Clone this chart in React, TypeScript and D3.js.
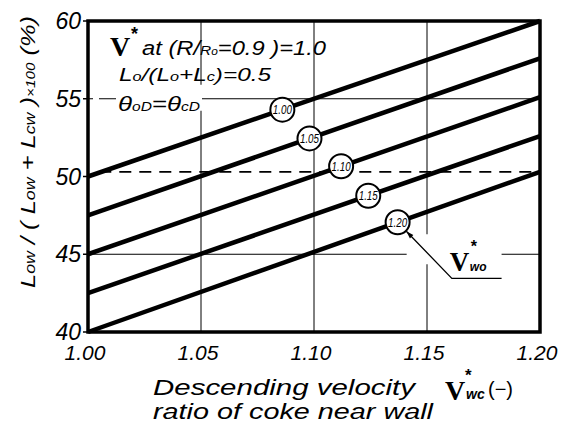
import React from "react";
import * as d3 from "d3";

// V*wo levels and their line end points
const vwoLevels = ["1.00", "1.05", "1.10", "1.15", "1.20"];
const startValues = [50, 47.5, 45, 42.5, 40];
const endValues = [60, 57.6, 55.1, 52.6, 50.3];
const labelAt = [1.086, 1.098, 1.112, 1.124, 1.137];

const xTicks = [1.0, 1.05, 1.1, 1.15, 1.2];
const xTickLabels = ["1.00", "1.05", "1.10", "1.15", "1.20"];
const yTicks = [40, 45, 50, 55, 60];
const yGrid = [45, 55];
const xGrid = [1.05, 1.1, 1.15];
const dashedLevel = 50.3;

const W = 576;
const H = 428;
const font = "'Liberation Sans', Arial, sans-serif";

const App = () => {
  const x = d3.scaleLinear().domain([1.0, 1.2]).range([88, 540]);
  const y = d3.scaleLinear().domain([40, 60]).range([332, 21]);

  const line = d3
    .line<[number, number]>()
    .x((d) => x(d[0]))
    .y((d) => y(d[1]));

  const valueAt = (i: number, v: number) =>
    startValues[i] + ((endValues[i] - startValues[i]) * (v - 1.0)) / 0.2;

  // leader line for V*wo label
  const cx = x(labelAt[4]);
  const cy = y(valueAt(4, labelAt[4]));
  const lx0 = x(1.161);
  const lx1 = x(1.183);
  const ly = y(43.45);
  const ang = Math.atan2(ly - cy, lx0 - cx);
  const tipX = cx + Math.cos(ang) * 12.5;
  const tipY = cy + Math.sin(ang) * 12.5;
  const ah = 8;
  const arrow = [
    [tipX, tipY],
    [tipX + Math.cos(ang + 0.3) * ah, tipY + Math.sin(ang + 0.3) * ah],
    [tipX + Math.cos(ang - 0.3) * ah, tipY + Math.sin(ang - 0.3) * ah],
  ]
    .map((p) => p.join(","))
    .join(" ");

  return (
    <svg
      width={W}
      height={H}
      style={{ position: "absolute", left: 0, top: 0, background: "#fff" }}
      fontFamily={font}
    >
      <rect width={W} height={H} fill="#fff" />

      {/* thin grid */}
      {xGrid.map((v) => (
        <line key={"gx" + v} x1={x(v)} x2={x(v)} y1={y(60)} y2={y(40)} stroke="#000" strokeWidth={1} />
      ))}
      {yGrid.map((v) => (
        <line key={"gy" + v} x1={x(1.0)} x2={x(1.2)} y1={y(v)} y2={y(v)} stroke="#000" strokeWidth={1} />
      ))}

      {/* white patches behind annotation text */}
      <rect x={93} y={y(55) - 14} width={6} height={26} fill="#fff" />
      <rect x={116} y={y(55) - 14} width={86} height={26} fill="#fff" />
      <rect x={x(1.141)} y={y(45) - 20} width={x(1.183) - x(1.141)} height={30} fill="#fff" />

      {/* dashed reference */}
      <line
        x1={x(1.005)}
        x2={x(1.2)}
        y1={y(dashedLevel)}
        y2={y(dashedLevel)}
        stroke="#000"
        strokeWidth={1.6}
        strokeDasharray="12,8"
      />

      {/* data lines */}
      {vwoLevels.map((k, i) => (
        <path
          key={"l" + k}
          d={line([
            [1.0, startValues[i]],
            [1.2, endValues[i]],
          ]) as string}
          stroke="#000"
          strokeWidth={4.5}
          fill="none"
        />
      ))}

      {/* frame */}
      <rect
        x={x(1.0)}
        y={y(60)}
        width={x(1.2) - x(1.0)}
        height={y(40) - y(60)}
        fill="none"
        stroke="#000"
        strokeWidth={3.5}
      />

      {/* y tick marks and labels */}
      {yTicks.map((v) => (
        <g key={"yt" + v}>
          <line x1={x(1.0) - 5} x2={x(1.0)} y1={y(v)} y2={y(v)} stroke="#000" strokeWidth={1.5} />
          <text
            x={x(1.0) - 7}
            y={y(v) + 8}
            textAnchor="end"
            fontSize={23}
            fontStyle="italic"
          >
            {v}
          </text>
        </g>
      ))}

      {/* x tick labels */}
      {xTicks.map((v, i) => (
        <text key={"xt" + v} x={x(v) - 3} y={360} textAnchor="middle" fontSize={21} fontStyle="italic">
          {xTickLabels[i]}
        </text>
      ))}

      {/* circle labels */}
      {vwoLevels.map((k, i) => {
        const px = x(labelAt[i]);
        const py = y(valueAt(i, labelAt[i]));
        return (
          <g key={"c" + k}>
            <circle cx={px} cy={py} r={12} fill="#fff" stroke="#000" strokeWidth={2} />
            <text
              x={px}
              y={py + 4.5}
              textAnchor="middle"
              fontSize={12.5}
              fontStyle="italic"
              textLength={19}
              lengthAdjust="spacingAndGlyphs"
            >
              {k}
            </text>
          </g>
        );
      })}

      {/* V*wo leader */}
      <polyline
        points={`${tipX},${tipY} ${lx0},${ly} ${lx1},${ly}`}
        fill="none"
        stroke="#000"
        strokeWidth={1.3}
      />
      <polygon points={arrow} fill="#000" />
      <text x={lx0 - 2} y={ly - 7} fontFamily="'Liberation Serif', serif" fontWeight="bold" fontSize={27}>
        V
      </text>
      <text x={lx0 + 19} y={ly - 26} fontSize={16} fontWeight="bold">
        *
      </text>
      <text x={lx0 + 18} y={ly - 7} fontSize={12} fontStyle="italic" fontWeight="bold">
        wo
      </text>

      {/* annotation block */}
      <text x={110} y={56} fontFamily="'Liberation Serif', serif" fontWeight="bold" fontSize={28}>
        V
      </text>
      <text x={131} y={40} fontSize={18} fontWeight="bold">
        *
      </text>
      <text x={142} y={55} fontSize={20} fontStyle="italic" textLength={184} lengthAdjust="spacingAndGlyphs">
        at (R/
        <tspan fontSize={13}>R</tspan>
        <tspan fontSize={10}>o</tspan>
        {"=0.9 )=1.0"}
      </text>
      <text x={119} y={81} fontSize={18} fontStyle="italic" textLength={152} lengthAdjust="spacingAndGlyphs">
        L<tspan fontSize={12}>o</tspan>/(L<tspan fontSize={12}>o</tspan>+L<tspan fontSize={12}>c</tspan>)=0.5
      </text>
      <text x={118} y={111} fontSize={20} fontStyle="italic" textLength={82} lengthAdjust="spacingAndGlyphs">
        θ<tspan fontSize={12}>oD</tspan>=θ<tspan fontSize={12}>cD</tspan>
      </text>

      {/* y axis title */}
      <text
        transform="translate(35,152) rotate(-90)"
        textAnchor="middle"
        fontSize={20}
        fontStyle="italic"
        textLength={272}
        lengthAdjust="spacingAndGlyphs"
      >
        L<tspan fontSize={14}>ow</tspan> / ( L<tspan fontSize={14}>ow</tspan> + L
        <tspan fontSize={14}>cw</tspan> )<tspan fontSize={12}>×100</tspan> (%)
      </text>

      {/* x axis title */}
      <text x={153} y={395} fontSize={22} fontStyle="italic" textLength={262} lengthAdjust="spacingAndGlyphs">
        Descending velocity
      </text>
      <text x={153} y={419} fontSize={22} fontStyle="italic" textLength={280} lengthAdjust="spacingAndGlyphs">
        ratio of coke near wall
      </text>
      <text x={445} y={400} fontFamily="'Liberation Serif', serif" fontWeight="bold" fontSize={28}>
        V
      </text>
      <text x={465} y={381} fontSize={17} fontWeight="bold">
        *
      </text>
      <text x={466} y={399} fontSize={14} fontStyle="italic" fontWeight="bold">
        wc
      </text>
      <text x={488} y={396} fontSize={20}>
        (−)
      </text>
    </svg>
  );
};

export default App;
